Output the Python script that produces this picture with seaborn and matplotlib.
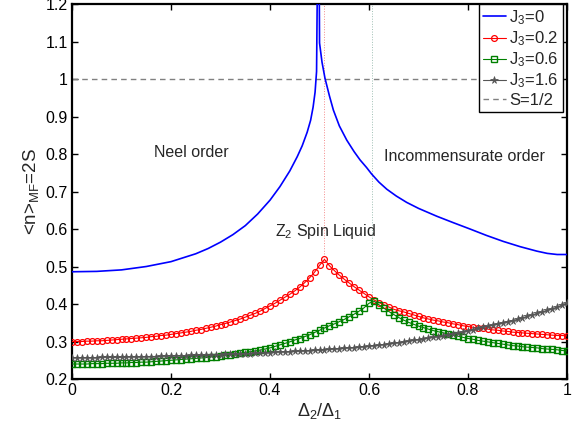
import numpy as np
import pandas as pd
import matplotlib
matplotlib.use("Agg")
import matplotlib.pyplot as plt
import seaborn as sns

# --- data ---
ratio = np.round(np.linspace(0, 1, 101), 2)   # Delta_2 / Delta_1, step 0.01

blue_x = [0.0, 0.05, 0.1, 0.15, 0.2, 0.25, 0.275, 0.3, 0.325, 0.35, 0.375, 0.4,
          0.42, 0.44, 0.455, 0.465, 0.475, 0.482, 0.487, 0.491, 0.494, 0.498,
          0.5, 0.505, 0.511, 0.52, 0.528, 0.54, 0.555, 0.57, 0.582, 0.595, 0.605,
          0.62, 0.636, 0.655, 0.676, 0.7, 0.737, 0.77, 0.804, 0.837, 0.871,
          0.905, 0.939, 0.96, 0.98, 1.0]
blue_y = [0.486, 0.487, 0.491, 0.500, 0.513, 0.534, 0.548, 0.565, 0.585, 0.609,
          0.640, 0.677, 0.713, 0.755, 0.793, 0.822, 0.858, 0.890, 0.925, 0.965,
          1.020, 1.600, 1.096, 1.045, 1.002, 0.955, 0.917, 0.875, 0.837, 0.806,
          0.784, 0.764, 0.747, 0.725, 0.706, 0.688, 0.671, 0.655, 0.634, 0.617,
          0.600, 0.583, 0.567, 0.553, 0.541, 0.535, 0.532, 0.532]

red_y = [0.300, 0.300, 0.300, 0.301, 0.301, 0.302, 0.302, 0.303, 0.304, 0.305, 0.306,
         0.307, 0.308, 0.309, 0.310, 0.311, 0.313, 0.314, 0.316, 0.317, 0.319,
         0.321, 0.323, 0.325, 0.327, 0.330, 0.332, 0.335, 0.338, 0.341, 0.345,
         0.348, 0.352, 0.356, 0.360, 0.365, 0.370, 0.375, 0.381, 0.388, 0.395,
         0.402, 0.410, 0.418, 0.426, 0.435, 0.445, 0.457, 0.470, 0.485, 0.503,
         0.519, 0.502, 0.489, 0.477, 0.466, 0.456, 0.446, 0.437, 0.428, 0.419,
         0.411, 0.404, 0.398, 0.392, 0.386, 0.382, 0.379, 0.375, 0.371, 0.367,
         0.363, 0.360, 0.357, 0.355, 0.352, 0.350, 0.347, 0.345, 0.342, 0.340,
         0.338, 0.336, 0.335, 0.333, 0.331, 0.330, 0.328, 0.327, 0.325, 0.324,
         0.323, 0.322, 0.321, 0.320, 0.319, 0.318, 0.317, 0.316, 0.316, 0.315]

green_y = [0.240, 0.240, 0.240, 0.240, 0.241, 0.241, 0.241, 0.242, 0.242, 0.242, 0.243,
           0.243, 0.244, 0.244, 0.245, 0.245, 0.246, 0.247, 0.248, 0.249, 0.250,
           0.251, 0.252, 0.253, 0.254, 0.255, 0.256, 0.257, 0.259, 0.260, 0.262,
           0.263, 0.265, 0.267, 0.269, 0.271, 0.273, 0.275, 0.277, 0.280, 0.283,
           0.287, 0.291, 0.295, 0.299, 0.304, 0.308, 0.313, 0.318, 0.324, 0.330,
           0.336, 0.342, 0.347, 0.353, 0.359, 0.366, 0.373, 0.381, 0.390, 0.402,
           0.408, 0.398, 0.389, 0.380, 0.372, 0.364, 0.357, 0.351, 0.346, 0.341,
           0.337, 0.333, 0.329, 0.326, 0.323, 0.320, 0.317, 0.314, 0.311, 0.308,
           0.306, 0.303, 0.301, 0.299, 0.297, 0.295, 0.293, 0.291, 0.289, 0.288,
           0.286, 0.285, 0.284, 0.283, 0.281, 0.280, 0.279, 0.278, 0.276, 0.275]

grey_y = [0.257, 0.257, 0.257, 0.257, 0.257, 0.257, 0.258, 0.258, 0.258, 0.258, 0.258,
          0.259, 0.259, 0.259, 0.259, 0.260, 0.260, 0.260, 0.261, 0.261, 0.261,
          0.262, 0.262, 0.262, 0.263, 0.263, 0.263, 0.264, 0.264, 0.265, 0.265,
          0.266, 0.266, 0.267, 0.267, 0.268, 0.268, 0.269, 0.269, 0.270, 0.270,
          0.271, 0.272, 0.272, 0.273, 0.274, 0.274, 0.275, 0.276, 0.277, 0.277,
          0.278, 0.279, 0.280, 0.281, 0.282, 0.283, 0.284, 0.285, 0.286, 0.287,
          0.289, 0.290, 0.292, 0.294, 0.295, 0.297, 0.299, 0.301, 0.303, 0.305,
          0.307, 0.309, 0.311, 0.313, 0.315, 0.318, 0.320, 0.323, 0.326, 0.329,
          0.332, 0.335, 0.338, 0.341, 0.344, 0.347, 0.350, 0.353, 0.356, 0.359,
          0.363, 0.367, 0.371, 0.375, 0.379, 0.383, 0.387, 0.392, 0.397, 0.403]

# transition points (dotted guides): x, peak value
red_peak = (0.51, 0.519)
green_peak = (0.605, 0.411)

xticks = [0, 0.2, 0.4, 0.6, 0.8, 1]
xtick_labels = ["0", "0.2", "0.4", "0.6", "0.8", "1"]
yticks = [0.2, 0.3, 0.4, 0.5, 0.6, 0.7, 0.8, 0.9, 1.0, 1.1, 1.2]
ytick_labels = ["0.2", "0.3", "0.4", "0.5", "0.6", "0.7", "0.8", "0.9", "1", "1.1", "1.2"]

# --- style ---
sns.set_style("ticks")
plt.rcParams["font.family"] = ["Liberation Sans", "DejaVu Sans"]
plt.rcParams["mathtext.default"] = "regular"
plt.rcParams["font.size"] = 11.5
plt.rcParams["axes.linewidth"] = 1.6
plt.rcParams["xtick.direction"] = "in"
plt.rcParams["ytick.direction"] = "in"

fig = plt.figure(figsize=(5.87, 4.26), dpi=100)
ax = fig.add_axes([0.1227, 0.1103, 0.8433, 0.8803])

# dotted guides at the transitions
ax.plot([red_peak[0], red_peak[0]], [red_peak[1], 1.2], ls=":", lw=0.7,
        color="#f48a8a", label="_nolegend_", zorder=1)
ax.plot([green_peak[0], green_peak[0]], [green_peak[1], 1.2], ls=":", lw=0.7,
        color="#9fbfb4", label="_nolegend_", zorder=1)

sns.lineplot(x=blue_x, y=blue_y, ax=ax, color="#0000ff", lw=1.2,
             label="J$_3$=0", zorder=3)
sns.lineplot(x=ratio, y=red_y, ax=ax, color="#ff0000", lw=0.8, marker="o",
             markersize=4.2, markerfacecolor="none", markeredgecolor="#ff0000",
             markeredgewidth=0.9, label="J$_3$=0.2", zorder=3)
sns.lineplot(x=ratio, y=green_y, ax=ax, color="#008000", lw=0.8, marker="s",
             markersize=3.8, markerfacecolor="none", markeredgecolor="#008000",
             markeredgewidth=1.0, label="J$_3$=0.6", zorder=3)
sns.lineplot(x=ratio, y=grey_y, ax=ax, color="#555555", lw=0.8, marker="*",
             markersize=5.5, markerfacecolor="#555555", markeredgecolor="#555555",
             markeredgewidth=0.5, label="J$_3$=1.6", zorder=3)
ax.axhline(1.0, ls=(0, (4, 3)), lw=1.0, color="#808080", label="S=1/2", zorder=2)

ax.set_xlim(0, 1)
ax.set_ylim(0.2, 1.2)
ax.set_xticks(xticks)
ax.set_xticklabels(xtick_labels)
ax.set_yticks(yticks)
ax.set_yticklabels(ytick_labels)
ax.tick_params(top=True, right=True, length=4, width=1.0, pad=3,
               labelsize=11.5, colors="black")
for s in ax.spines.values():
    s.set_visible(True)
    s.set_color("black")

ax.set_xlabel("Δ$_2$/Δ$_1$", fontsize=13, labelpad=2)
ax.set_ylabel("<n>$_{MF}$=2S", fontsize=13.5, labelpad=3)

ax.text(0.241, 0.803, "Neel order", ha="center", va="center", fontsize=11.5)
ax.text(0.792, 0.793, "Incommensurate order", ha="center", va="center", fontsize=11.5)
ax.text(0.41, 0.593, "Z$_2$ Spin Liquid", ha="left", va="center", fontsize=11.5)

leg = ax.legend(loc="upper right", bbox_to_anchor=(0.992, 1.0), borderaxespad=0,
                frameon=True, fancybox=False, framealpha=1, edgecolor="black",
                fontsize=12, handlelength=1.4, handletextpad=0.2,
                labelspacing=0.15, borderpad=0.25)
leg.get_frame().set_linewidth(1.0)

fig.savefig("out.png", dpi=100)
